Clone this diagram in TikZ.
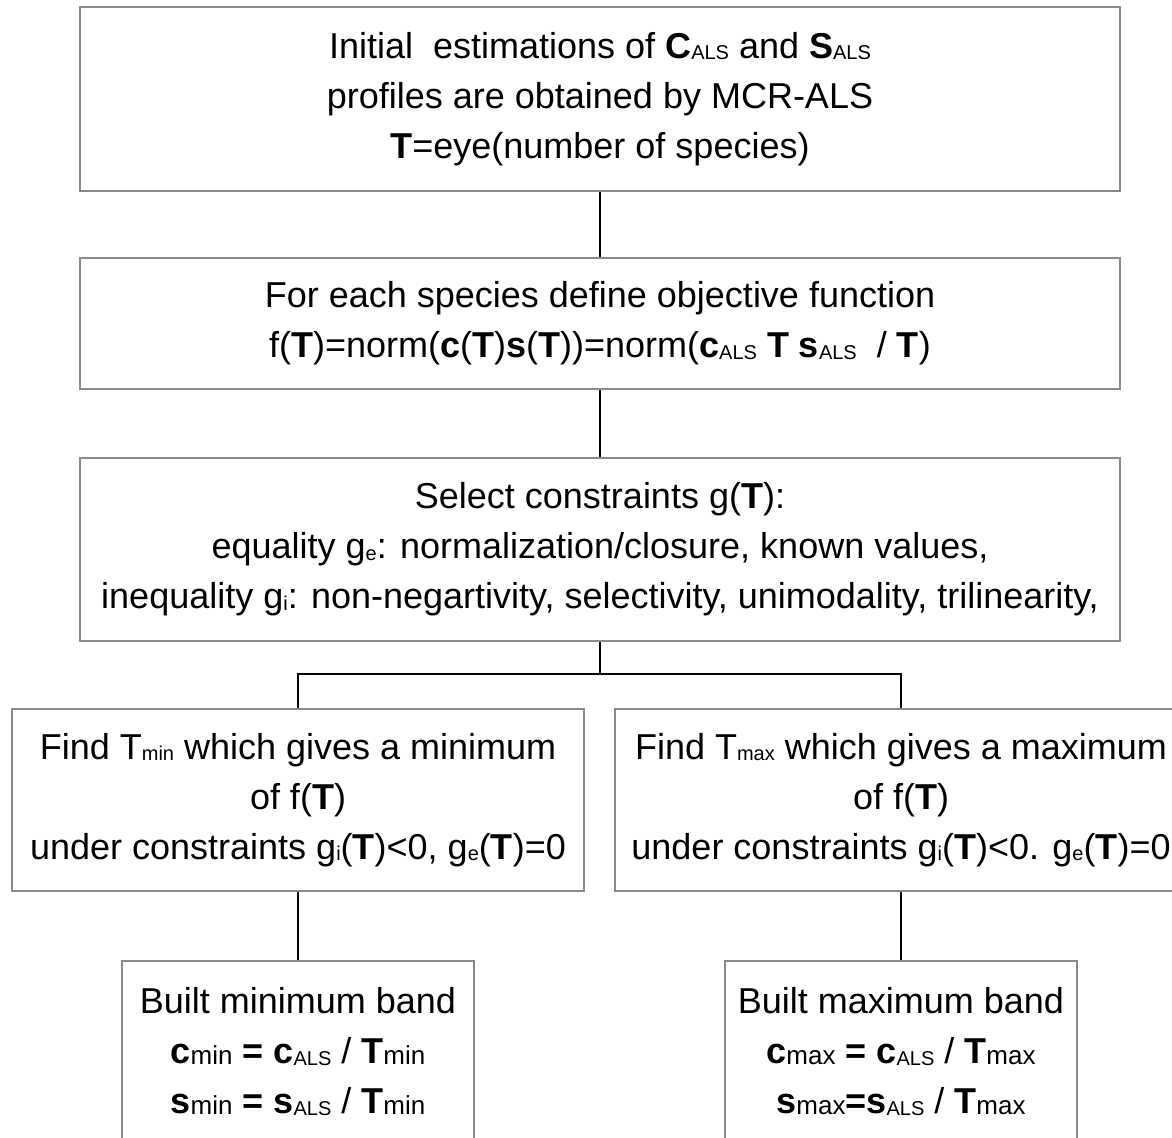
\documentclass[tikz,border=0pt]{standalone}
\usepackage{fontspec}
\setmainfont{Liberation Sans}
\definecolor{boxgray}{HTML}{8A8A8A}
\newcommand{\bt}{\textbf{T}}
\newcommand{\lo}[1]{\raisebox{-0.6pt}{\fontsize{10}{10}\selectfont #1}}
\newcommand{\mo}[1]{\raisebox{-0.4pt}{\fontsize{13}{13}\selectfont #1}}
\begin{document}
\begin{tikzpicture}[x=0.5pt,y=-0.5pt,
    box/.style={draw=boxgray, line width=1.2pt, align=center, inner sep=0pt,
      font=\fontsize{18}{25}\selectfont},
    wide/.style={box, minimum width=520pt},
    half/.style={box, minimum width=286pt, minimum height=91pt},
    band/.style={box, minimum width=176pt, minimum height=90.5pt},
    link/.style={line width=1pt}]
    \useasboundingbox (0,0) rectangle (1172,1138);
    \node[wide, minimum height=92pt] (init) at (600,99) {Initial~ estimations of \textbf{C}\lo{ALS} and \textbf{S}\lo{ALS}\\profiles are obtained by MCR-ALS\\\bt=eye(number of species)};
    \node[wide, minimum height=65.5pt] (obj) at (600,323.5) {For each species define objective function\\f(\bt)=norm(\textbf{c}(\bt)\textbf{s}(\bt))=norm(\textbf{c}\lo{ALS} \bt{} \textbf{s}\lo{ALS}~ / \bt)};
    \node[wide, minimum height=91.5pt] (cons) at (600,549.5) {Select constraints g(\bt):\\equality g\lo{e}: normalization/closure, known values,\\inequality g\lo{i}: non-negartivity, selectivity, unimodality, trilinearity,};
    \node[half] (tmin) at (298,800) {Find T\lo{min} which gives a minimum\\of f(\bt)\\under constraints g\lo{i}(\bt)<0, g\lo{e}(\bt)=0};
    \node[half] (tmax) at (901,800) {Find T\lo{max} which gives a maximum\\of f(\bt)\\under constraints g\lo{i}(\bt)<0. g\lo{e}(\bt)=0};
    \node[band] (bmin) at (298,1051.5) {Built minimum band\\\textbf{c}\mo{min} \textbf{=} \textbf{c}\lo{ALS} / \bt\mo{min}\\\textbf{s}\mo{min} \textbf{=} \textbf{s}\lo{ALS} / \bt\mo{min}};
    \node[band] (bmax) at (901,1051.5) {Built maximum band\\\textbf{c}\mo{max} \textbf{=} \textbf{c}\lo{ALS} / \bt\mo{max}\\\textbf{s}\mo{max}\textbf{=}\textbf{s}\lo{ALS} / \bt\mo{max}};
    \coordinate (split) at (600,674);
    \draw[link] (init) -- (obj);
    \draw[link] (obj) -- (cons);
    \draw[link] (cons) -- (split);
    \draw[link] (tmin.north) |- (split) -| (tmax.north);
    \draw[link] (tmin) -- (bmin);
    \draw[link] (tmax) -- (bmax);
\end{tikzpicture}
\end{document}
